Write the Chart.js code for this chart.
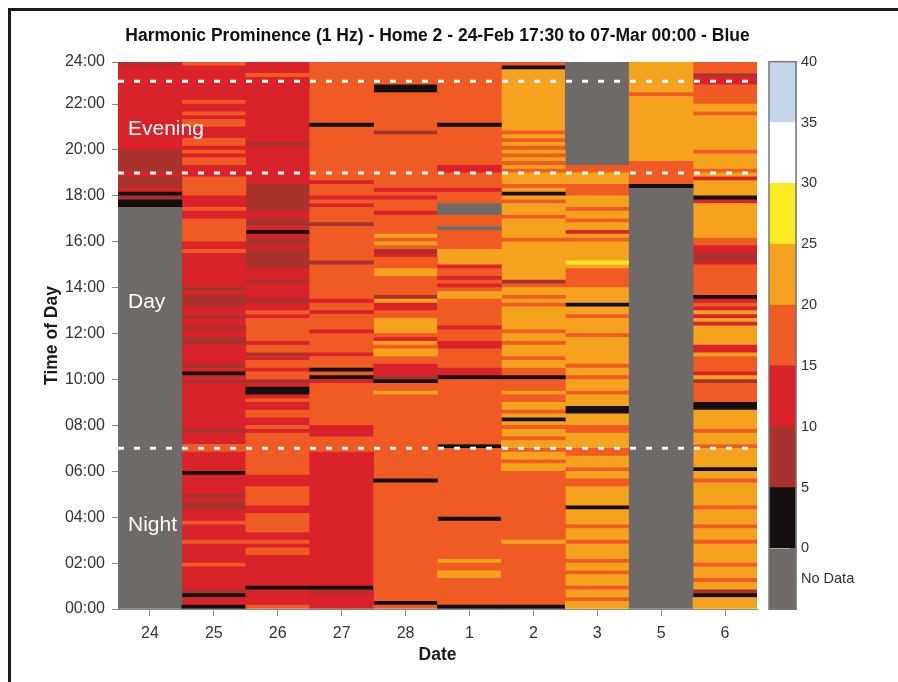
<!DOCTYPE html>
<html>
<head>
<meta charset="utf-8">
<script src="https://cdn.jsdelivr.net/npm/chart.js@4.4.0/dist/chart.umd.min.js"></script>
<style>
  body { margin: 0; background: #fff; width: 898px; height: 682px; overflow: hidden; position: relative; }
  #frame { position: absolute; left: 8px; top: 8px; width: 920px; height: 700px; border-left: 3px solid #1c1c1c; border-top: 3px solid #1c1c1c; }
  #main { position: absolute; left: 0; top: 0; }
  #bar { position: absolute; left: 760px; top: 42px; }
</style>
</head>
<body>
<div id="frame"></div>
<canvas id="main" width="898" height="682"></canvas>
<canvas id="bar" width="138" height="587"></canvas>
<script>
// Datas (colunas) e rótulos do eixo de horas
const dates = ["24", "25", "26", "27", "28", "1", "2", "3", "5", "6"];
const hourTicks = [0, 2, 4, 6, 8, 10, 12, 14, 16, 18, 20, 22, 23 + 50 / 60];
const hourLabels = ["00:00", "02:00", "04:00", "06:00", "08:00", "10:00", "12:00",
  "14:00", "16:00", "18:00", "20:00", "22:00", "24:00"];

// Períodos do dia
const periodBounds = [23, 19, 7];
const periodNames = ["Evening", "Day", "Night"];
const periodLabelHours = [20.65, 13.1, 3.41];

// Escala de cores (valor -> cor); null = sem dados
const binLow = [0, 5, 10, 15, 20, 25, 30, 35];
const binColors = ["#130f0f", "#a9332c", "#d92229", "#f05a23", "#f5a31e", "#fbeb23", "#ffffff", "#c4d6ec"];
const noDataColor = "#6e6a68";
const barTickValues = [-2.5, 0, 5, 10, 15, 20, 25, 30, 35, 40];
const barTickLabels = ["No Data", "0", "5", "10", "15", "20", "25", "30", "35", "40"];

// Proeminência por faixa horária [de hhmm, até hhmm, valor]; pintadas em ordem
const feb24 = [[0, 2350, null], [1730, 1750, 2], [1750, 1800, 7], [1800, 1810, 2], [1810, 1820, 12],
  [1820, 1850, 7], [1850, 1900, 12], [1900, 2000, 7], [2000, 2340, 12], [2340, 2350, 7]];
const feb25 = [[0, 2350, 12], [0, 10, 2], [30, 40, 2], [40, 50, 7], [150, 200, 17], [250, 300, 17],
  [340, 350, 17], [420, 440, 7], [450, 500, 7], [550, 600, 2], [650, 710, 17], [740, 750, 7],
  [950, 1000, 7], [1010, 1020, 2], [1030, 1040, 7], [1130, 1150, 7], [1210, 1220, 7], [1240, 1250, 7],
  [1310, 1340, 7], [1350, 1400, 7], [1530, 1540, 17], [1600, 1700, 17], [1720, 1730, 17],
  [1800, 1850, 17], [1920, 1940, 17], [1950, 2000, 17], [2010, 2030, 17], [2100, 2120, 17],
  [2130, 2140, 17], [2200, 2210, 17], [2340, 2350, 17]];
const feb26 = [[0, 2350, 12], [0, 10, 17], [50, 100, 2], [220, 240, 17], [250, 300, 17], [320, 410, 17],
  [430, 520, 17], [550, 740, 17], [750, 800, 17], [820, 840, 17], [900, 910, 17], [920, 940, 2],
  [950, 1000, 7], [1000, 1020, 17], [1030, 1050, 17], [1100, 1110, 7], [1110, 1130, 17],
  [1140, 1240, 17], [1250, 1300, 17], [1320, 1330, 7], [1410, 1420, 7], [1450, 1540, 7],
  [1550, 1610, 7], [1620, 1630, 2], [1640, 1700, 7], [1720, 1830, 7], [2010, 2020, 7], [2310, 2320, 17]];
const feb27 = [[0, 2350, 17], [0, 650, 12], [40, 50, 7], [50, 100, 2], [730, 800, 12], [950, 1000, 12],
  [1000, 1010, 2], [1020, 1030, 2], [1100, 1110, 12], [1200, 1210, 12], [1250, 1300, 12],
  [1320, 1330, 12], [1500, 1510, 7], [1640, 1650, 7], [1730, 1740, 12], [1750, 1800, 12],
  [1830, 1840, 12], [2100, 2110, 2]];
const feb28 = [[0, 2350, 17], [10, 20, 2], [530, 540, 2], [920, 930, 22], [950, 1000, 2], [1000, 1010, 7],
  [1010, 1040, 12], [1100, 1120, 22], [1130, 1140, 22], [1140, 1150, 12], [1200, 1240, 22],
  [1300, 1320, 12], [1320, 1330, 22], [1330, 1340, 7], [1430, 1450, 22], [1520, 1530, 12],
  [1530, 1540, 7], [1550, 1600, 22], [1610, 1620, 22], [1710, 1720, 12], [1750, 1800, 12],
  [1810, 1820, 12], [2040, 2050, 7], [2230, 2250, 2]];
const mar1 = [[0, 2350, 17], [0, 10, 2], [120, 140, 22], [200, 210, 22], [350, 400, 2], [700, 710, 2],
  [1000, 1010, 2], [1010, 1030, 12], [1120, 1140, 12], [1210, 1220, 12], [1330, 1350, 22],
  [1400, 1410, 12], [1420, 1430, 12], [1450, 1500, 12], [1500, 1540, 22], [1630, 1640, null],
  [1710, 1740, null], [1810, 1820, 12], [1900, 1920, 12], [2100, 2110, 2]];
const mar2 = [[0, 2350, 22], [0, 600, 17], [0, 10, 2], [250, 300, 22], [620, 630, 17], [650, 700, 17],
  [720, 730, 17], [750, 800, 17], [810, 820, 2], [830, 840, 17], [900, 920, 17], [930, 1000, 17],
  [1000, 1010, 2], [1010, 1030, 17], [1050, 1100, 17], [1130, 1140, 17], [1200, 1210, 17],
  [1310, 1320, 17], [1330, 1340, 17], [1400, 1410, 17], [1410, 1420, 7], [1600, 1610, 17],
  [1700, 1710, 17], [1740, 1750, 17], [1800, 1810, 2], [1820, 1830, 17], [1900, 1910, 17],
  [1920, 1930, 17], [1940, 1950, 17], [2000, 2010, 17], [2020, 2030, 17], [2040, 2050, 17],
  [2330, 2340, 2], [2340, 2350, 17]];
const mar3 = [[0, 2350, 22], [20, 30, 17], [50, 60, 17], [130, 140, 17], [200, 210, 17], [250, 300, 17],
  [330, 340, 17], [420, 430, 2], [520, 540, 17], [600, 610, 17], [640, 700, 17], [740, 800, 17],
  [830, 850, 2], [920, 930, 17], [1000, 1010, 17], [1030, 1040, 17], [1150, 1200, 17],
  [1240, 1250, 17], [1310, 1320, 2], [1400, 1450, 17], [1500, 1510, 27], [1600, 1610, 17],
  [1620, 1630, 12], [1650, 1700, 17], [1720, 1730, 17], [1800, 1830, 17], [1900, 1920, 17],
  [1920, 2350, null]];
const mar5 = [[0, 1820, null], [1820, 1830, 2], [1830, 1930, 17], [1930, 2350, 22], [2220, 2230, 17]];
const mar6 = [[0, 2350, 22], [30, 40, 2], [40, 50, 7], [110, 120, 17], [150, 200, 17], [250, 300, 17],
  [330, 340, 17], [420, 430, 17], [530, 540, 17], [600, 610, 2], [700, 710, 17], [740, 750, 17],
  [840, 900, 2], [900, 950, 17], [950, 1000, 7], [1010, 1020, 12], [1020, 1100, 17], [1110, 1130, 12],
  [1220, 1230, 12], [1240, 1250, 12], [1300, 1310, 12], [1310, 1320, 17], [1320, 1330, 12],
  [1330, 1340, 2], [1340, 1500, 17], [1500, 1510, 12], [1510, 1530, 7], [1530, 1550, 12],
  [1550, 1610, 17], [1740, 1750, 12], [1750, 1800, 2], [1840, 1850, 12], [1900, 1910, 17],
  [1950, 2000, 17], [2130, 2140, 17], [2200, 2250, 17], [2250, 2310, 12], [2310, 2320, 7],
  [2320, 2350, 17]];
const days = [feb24, feb25, feb26, feb27, feb28, mar1, mar2, mar3, mar5, mar6];

Chart.defaults.font.family = "'Liberation Sans', Arial, Helvetica, sans-serif";
Chart.defaults.color = "#333";

const nSlots = 143; // blocos de 10 min, 00:00 a 23:50
function toSlot(t) {
  return Math.floor(t / 100) * 6 + (t % 100) / 10;
}
function colorFor(v) {
  if (v == null) return noDataColor;
  let i = binLow.length - 1;
  while (i > 0 && v < binLow[i]) i--;
  return binColors[i];
}
// pinta as faixas e junta blocos seguidos de mesmo valor
function runsOf(stripes) {
  const slots = new Array(nSlots);
  stripes.forEach(([a, b, v]) => {
    for (let i = toSlot(a); i < Math.min(toSlot(b), nSlots); i++) slots[i] = v;
  });
  const runs = [];
  for (let i = 0; i < nSlots; i++) {
    const last = runs[runs.length - 1];
    if (last && last.v === slots[i]) last.end = (i + 1) / 6;
    else runs.push({ start: i / 6, end: (i + 1) / 6, v: slots[i] });
  }
  return runs;
}

const runsByDay = days.map(runsOf);
const maxRuns = Math.max(...runsByDay.map(r => r.length));
const datasets = [];
for (let k = 0; k < maxRuns; k++) {
  datasets.push({
    data: runsByDay.map(r => (r[k] ? [r[k].start, r[k].end] : null)),
    backgroundColor: runsByDay.map(r => (r[k] ? colorFor(r[k].v) : "transparent")),
    borderWidth: 0,
    grouped: false,
    barPercentage: 1,
    categoryPercentage: 1
  });
}

// linhas tracejadas e nomes dos períodos
const periodPlugin = {
  id: "periods",
  afterDatasetsDraw(chart) {
    const { ctx, chartArea, scales } = chart;
    ctx.save();
    ctx.strokeStyle = "#fff";
    ctx.lineWidth = 3;
    ctx.setLineDash([6, 10]);
    periodBounds.forEach(h => {
      const y = scales.y.getPixelForValue(h);
      ctx.beginPath();
      ctx.moveTo(chartArea.left, y);
      ctx.lineTo(chartArea.right, y);
      ctx.stroke();
    });
    ctx.setLineDash([]);
    ctx.fillStyle = "#fff";
    ctx.font = "21px 'Liberation Sans', Arial, sans-serif";
    ctx.textBaseline = "alphabetic";
    periodNames.forEach((name, i) => {
      ctx.fillText(name, chartArea.left + 10, scales.y.getPixelForValue(periodLabelHours[i]));
    });
    ctx.restore();
  }
};

new Chart(document.getElementById("main").getContext("2d"), {
  type: "bar",
  data: { labels: dates, datasets: datasets },
  options: {
    responsive: false,
    animation: false,
    layout: { padding: { left: 0, right: 141, top: 0, bottom: 0 } },
    plugins: {
      legend: { display: false },
      tooltip: { enabled: false },
      title: {
        display: true,
        fullSize: false,
        text: "Harmonic Prominence (1 Hz) - Home 2 - 24-Feb 17:30 to 07-Mar 00:00 - Blue",
        color: "#111",
        font: { size: 17.5, weight: "bold" },
        padding: { top: 25.5, bottom: 15.5 }
      }
    },
    scales: {
      x: {
        grid: { drawOnChartArea: false, tickLength: 7, offset: false, color: "#8a8a8a" },
        border: { color: "#8a8a8a" },
        ticks: { font: { size: 16 }, color: "#333", padding: 8 },
        title: { display: true, text: "Date", color: "#1a1a1a", font: { size: 17.5, weight: "bold" }, padding: { top: 0, bottom: 16.5 } },
        afterFit: s => { s.height = 73; }
      },
      y: {
        min: 0,
        max: hourTicks[hourTicks.length - 1],
        afterBuildTicks: s => { s.ticks = hourTicks.map(v => ({ value: v })); },
        ticks: { font: { size: 16 }, color: "#333", padding: 7, callback: (v, i) => hourLabels[i] },
        grid: { drawOnChartArea: false, tickLength: 6, color: "#8a8a8a" },
        border: { color: "#8a8a8a" },
        title: { display: true, text: "Time of Day", color: "#1a1a1a", font: { size: 17.5, weight: "bold" }, padding: { top: 41.5, bottom: 0 } },
        afterFit: s => { s.width = 118; }
      }
    }
  },
  plugins: [periodPlugin]
});

// barra de cores
const binDatasets = [{ data: [[-5, 0]], backgroundColor: noDataColor }].concat(
  binLow.map((lo, i) => ({ data: [[lo, lo + 5]], backgroundColor: binColors[i] }))
).map(d => Object.assign(d, { borderWidth: 0, grouped: false, barPercentage: 1, categoryPercentage: 1 }));

const framePlugin = {
  id: "frame",
  afterDraw(chart) {
    const { ctx, chartArea } = chart;
    ctx.save();
    ctx.strokeStyle = "#7a7a7a";
    ctx.lineWidth = 1.5;
    ctx.strokeRect(chartArea.left, chartArea.top, chartArea.right - chartArea.left, chartArea.bottom - chartArea.top);
    ctx.restore();
  }
};

new Chart(document.getElementById("bar").getContext("2d"), {
  type: "bar",
  data: { labels: [""], datasets: binDatasets },
  options: {
    responsive: false,
    animation: false,
    layout: { padding: { left: 9, right: 0, top: 12, bottom: 11 } },
    plugins: { legend: { display: false }, tooltip: { enabled: false } },
    scales: {
      x: { display: false },
      y: {
        position: "right",
        min: -5,
        max: 40,
        z: 1,
        afterBuildTicks: s => { s.ticks = barTickValues.map(v => ({ value: v })); },
        ticks: { font: { size: 14.5 }, color: "#333", padding: 11, callback: (v, i) => barTickLabels[i] },
        grid: { drawOnChartArea: false, tickLength: -6, color: "#7a7a7a" },
        border: { color: "#7a7a7a", width: 1.5 },
        afterFit: s => { s.width = 102; }
      }
    }
  },
  plugins: [framePlugin]
});
</script>
</body>
</html>
